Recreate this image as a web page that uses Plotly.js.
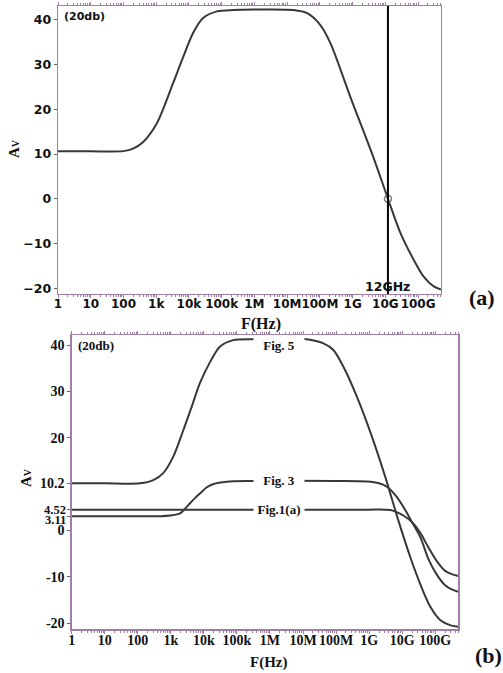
<!DOCTYPE html>
<html>
<head>
<meta charset="utf-8">
<script src="https://cdn.plot.ly/plotly-3.0.1.min.js"></script>
<style>html,body{margin:0;padding:0;background:#fff;}#chart{width:503px;height:673px;}</style>
</head>
<body>
<div id="chart"></div>
<script>
// ---------- data ----------
const tickFreqs = [1, 10, 100, 1e3, 1e4, 1e5, 1e6, 1e7, 1e8, 1e9, 1e10, 1e11];
const tickLabels = ['1', '10', '100', '1k', '10k', '100k', '1M', '10M', '100M', '1G', '10G', '100G'];

// (a) single response
const freqA = [1, 10, 100, 195, 400, 1070, 3300, 6200, 13500, 27000, 72000, 224000, 1e6,
  1.55e7, 4.1e7, 1.02e8, 2.1e8, 8.5e8, 4.4e9, 1.2e10, 2.9e10, 7.4e10, 1.48e11, 3.0e11, 5.0e11];
const gainA = [10.6, 10.6, 10.65, 11.2, 12.7, 17.0, 25.9, 31.1, 37.1, 40.4, 41.9, 42.2, 42.3,
  42.2, 41.5, 38.9, 34.8, 22.8, 9.1, 0, -7.7, -13.7, -17.4, -19.6, -20.3];
const cursorFreq = 1.2e10;
const cursorGain = 0;
const cursorLabel = '12GHz';
const yTicksA = [-20, -10, 0, 10, 20, 30, 40];

// (b) three responses
const freqFig5 = [1, 10, 117, 295, 589, 1175, 2399, 4266, 7586, 15488, 30903, 77625, 316228,
  1.29e7, 4.17e7, 8.3e7, 1.66e8, 4.27e8, 1.07e9, 3.02e9, 7.59e9, 1.74e10, 3.47e10, 7.08e10, 1.41e11, 2.82e11, 5.0e11];
const gainFig5 = [10.2, 10.2, 10.2, 10.9, 12.4, 15.9, 21.7, 26.7, 31.8, 36.4, 39.7, 41.1, 41.3,
  41.3, 40.4, 38.97, 35.4, 28.9, 21.4, 11.8, 2.3, -5.6, -11.4, -16.4, -19.3, -20.4, -20.75];

const freqFig3 = [1, 10, 100, 500, 955, 1905, 2692, 3802, 5370, 7586, 12023, 19498, 48978, 316228,
  1e8, 8.5e8, 2.0e9, 3.55e9, 6.31e9, 1.12e10, 2.0e10, 3.55e10, 6.31e10, 1.12e11, 2.0e11, 3.16e11, 5.0e11];
const gainFig3 = [3.11, 3.11, 3.11, 3.11, 3.25, 3.7, 4.7, 5.9, 7.0, 8.0, 9.3, 10.05, 10.55, 10.7,
  10.7, 10.6, 10.2, 9.4, 7.6, 5.0, 1.8, -1.4, -6.2, -9.5, -11.8, -12.7, -13.2];

const freqFig1a = [1, 10, 100, 1e3, 1e5, 1e7, 1e9, 3.0e9, 4.37e9, 6.31e9, 1.12e10, 2.0e10,
  3.55e10, 6.31e10, 1.12e11, 2.0e11, 3.16e11, 5.0e11];
const gainFig1a = [4.52, 4.52, 4.52, 4.52, 4.52, 4.52, 4.52, 4.52, 4.45, 4.1, 3.2, 1.8,
  -0.5, -3.7, -6.6, -8.7, -9.4, -9.8];
const yTicksB = [-20, -10, 0, 3.11, 4.52, 10.2, 20, 30, 40];
const yTickLabelsB = ['-20', '-10', '0', '', '', '10.2', '20', '30', '40'];
// the two close labels are written beside their ticks so they do not collide
const closeTickVals = [4.52, 3.11];
const closeTickText = ['4.52', '3.11'];

const seriesLabelsB = ['Fig. 5', 'Fig. 3', 'Fig.1(a)'];

// ---------- styling ----------
const W = 503, H = 673;
const px = v => v / W;
const py = v => 1 - v / H;
const axisCol = '#9f7fa6';
const lineCol = '#383838';
const sans = 'DejaVu Sans';
const serif = 'Liberation Serif';

const minorVals = [];
tickFreqs.forEach(d => { for (let m = 2; m <= 9; m++) { if (d * m <= 5.0e11) minorVals.push(d * m); } });

function xAxis(domain, anchor, font) {
  return {
    type: 'log', range: [0, 11.7], domain: domain, anchor: anchor,
    tickmode: 'array', tickvals: tickFreqs, ticktext: tickLabels, tickangle: 0,
    ticks: 'outside', ticklen: 3, tickcolor: axisCol, tickwidth: 1,
    showline: true, linecolor: axisCol, linewidth: 1.3, mirror: 'ticks',
    showgrid: false, zeroline: false, fixedrange: true,
    tickfont: font, ticklabelstandoff: -5,
    minor: { tickmode: 'array', tickvals: minorVals, ticks: 'outside', ticklen: 2, tickcolor: axisCol, showgrid: false }
  };
}
function yAxis(domain, anchor, range, vals, text, font) {
  const a = {
    range: range, domain: domain, anchor: anchor,
    tickmode: 'array', tickvals: vals,
    ticks: 'outside', ticklen: 3, tickcolor: '#666', tickwidth: 1,
    showline: true, linecolor: axisCol, linewidth: 1.3, mirror: true,
    showgrid: false, zeroline: false, fixedrange: true, tickfont: font
  };
  if (text) a.ticktext = text;
  return a;
}

const traces = [
  { x: freqA, y: gainA, xaxis: 'x', yaxis: 'y', mode: 'lines', line: { color: lineCol, width: 2, shape: 'spline', smoothing: 0.8 }, hoverinfo: 'skip' },
  { x: [cursorFreq], y: [cursorGain], xaxis: 'x', yaxis: 'y', mode: 'markers', marker: { symbol: 'circle-open', size: 7, color: '#777', line: { width: 1.5, color: '#777' } }, hoverinfo: 'skip' },
  { x: freqFig5, y: gainFig5, xaxis: 'x2', yaxis: 'y2', mode: 'lines', line: { color: lineCol, width: 2, shape: 'spline', smoothing: 0.8 }, hoverinfo: 'skip' },
  { x: freqFig3, y: gainFig3, xaxis: 'x2', yaxis: 'y2', mode: 'lines', line: { color: lineCol, width: 2, shape: 'spline', smoothing: 0.8 }, hoverinfo: 'skip' },
  { x: freqFig1a, y: gainFig1a, xaxis: 'x2', yaxis: 'y2', mode: 'lines', line: { color: lineCol, width: 2, shape: 'spline', smoothing: 0.8 }, hoverinfo: 'skip' }
];

const fA = { family: sans, size: 12, weight: 'bold', color: '#111' };
const fAy = { family: sans, size: 12.5, weight: 'bold', color: '#111' };
const fB = { family: serif, size: 14, weight: 'bold', color: '#111' };
const fBsmall = { family: serif, size: 12.5, weight: 'bold', color: '#111' };

const annotations = [
  // (a)
  { xref: 'paper', yref: 'paper', x: px(62), y: py(16), xanchor: 'left', yanchor: 'middle', text: '(20db)', showarrow: false, font: { family: sans, size: 11, weight: 'bold', color: '#111' } },
  { xref: 'x', yref: 'paper', x: Math.log10(cursorFreq), y: py(286), xanchor: 'center', yanchor: 'middle', text: cursorLabel, showarrow: false, font: { family: sans, size: 12.5, weight: 'bold', color: '#111' } },
  { xref: 'paper', yref: 'paper', x: px(261), y: py(324), xanchor: 'center', yanchor: 'middle', text: 'F(Hz)', showarrow: false, font: { family: serif, size: 16, weight: 'bold', color: '#111' } },
  { xref: 'paper', yref: 'paper', x: px(14), y: py(149), xanchor: 'center', yanchor: 'middle', textangle: -90, text: 'A<span style="font-size:10px">V</span>', showarrow: false, font: { family: serif, size: 15, weight: 'bold', color: '#111' } },
  { xref: 'paper', yref: 'paper', x: px(482), y: py(297), xanchor: 'center', yanchor: 'middle', text: '(a)', showarrow: false, font: { family: serif, size: 22, weight: 'bold', color: '#111' } },
  // (b)
  { xref: 'paper', yref: 'paper', x: px(76), y: py(346), xanchor: 'left', yanchor: 'middle', text: '(20db)', showarrow: false, font: { family: serif, size: 13, weight: 'bold', color: '#111' } },
  { xref: 'paper', yref: 'paper', x: px(268), y: py(662), xanchor: 'center', yanchor: 'middle', text: 'F(Hz)', showarrow: false, font: { family: serif, size: 15, weight: 'bold', color: '#111' } },
  { xref: 'paper', yref: 'paper', x: px(26), y: py(478), xanchor: 'center', yanchor: 'middle', textangle: -90, text: 'A<span style="font-size:10px">V</span>', showarrow: false, font: { family: serif, size: 15, weight: 'bold', color: '#111' } },
  { xref: 'paper', yref: 'paper', x: px(488), y: py(655), xanchor: 'center', yanchor: 'middle', text: '(b)', showarrow: false, font: { family: serif, size: 22, weight: 'bold', color: '#111' } }
];
// close tick labels, 3.11 nudged down a little as in the original
const closeShift = [0, -4];
closeTickVals.forEach((v, i) => {
  annotations.push({ xref: 'paper', yref: 'y2', x: px(67), y: v, yshift: closeShift[i], xanchor: 'right', yanchor: 'middle', text: closeTickText[i], showarrow: false, borderpad: 0, font: fBsmall });
});
const labelY = [346, 480, 509.5];
seriesLabelsB.forEach((t, i) => {
  annotations.push({ xref: 'paper', yref: 'paper', x: px(279), y: py(labelY[i]), xanchor: 'center', yanchor: 'middle', text: t, showarrow: false, width: 48, align: 'center', bgcolor: '#ffffff', borderpad: 1, font: { family: serif, size: 13, weight: 'bold', color: '#111' } });
});

const layout = {
  width: W, height: H,
  margin: { l: 0, r: 0, t: 0, b: 0 },
  paper_bgcolor: '#fff', plot_bgcolor: '#fff',
  showlegend: false,
  xaxis: xAxis([px(58), px(441)], 'y', fA),
  yaxis: yAxis([py(294), py(6)], 'x', [-21.3, 43.1], yTicksA, null, fAy),
  xaxis2: xAxis([px(71.7), px(458.3)], 'y2', fB),
  yaxis2: yAxis([py(629.3), py(335)], 'x2', [-21.3, 42.2], yTicksB, yTickLabelsB, fB),
  shapes: [
    { type: 'line', xref: 'x', yref: 'y domain', x0: cursorFreq, x1: cursorFreq, y0: 0, y1: 1, line: { color: '#000', width: 2 }, layer: 'above' }
  ],
  annotations: annotations
};

Plotly.newPlot('chart', traces, layout, { staticPlot: true, displayModeBar: false });
</script>
</body>
</html>
